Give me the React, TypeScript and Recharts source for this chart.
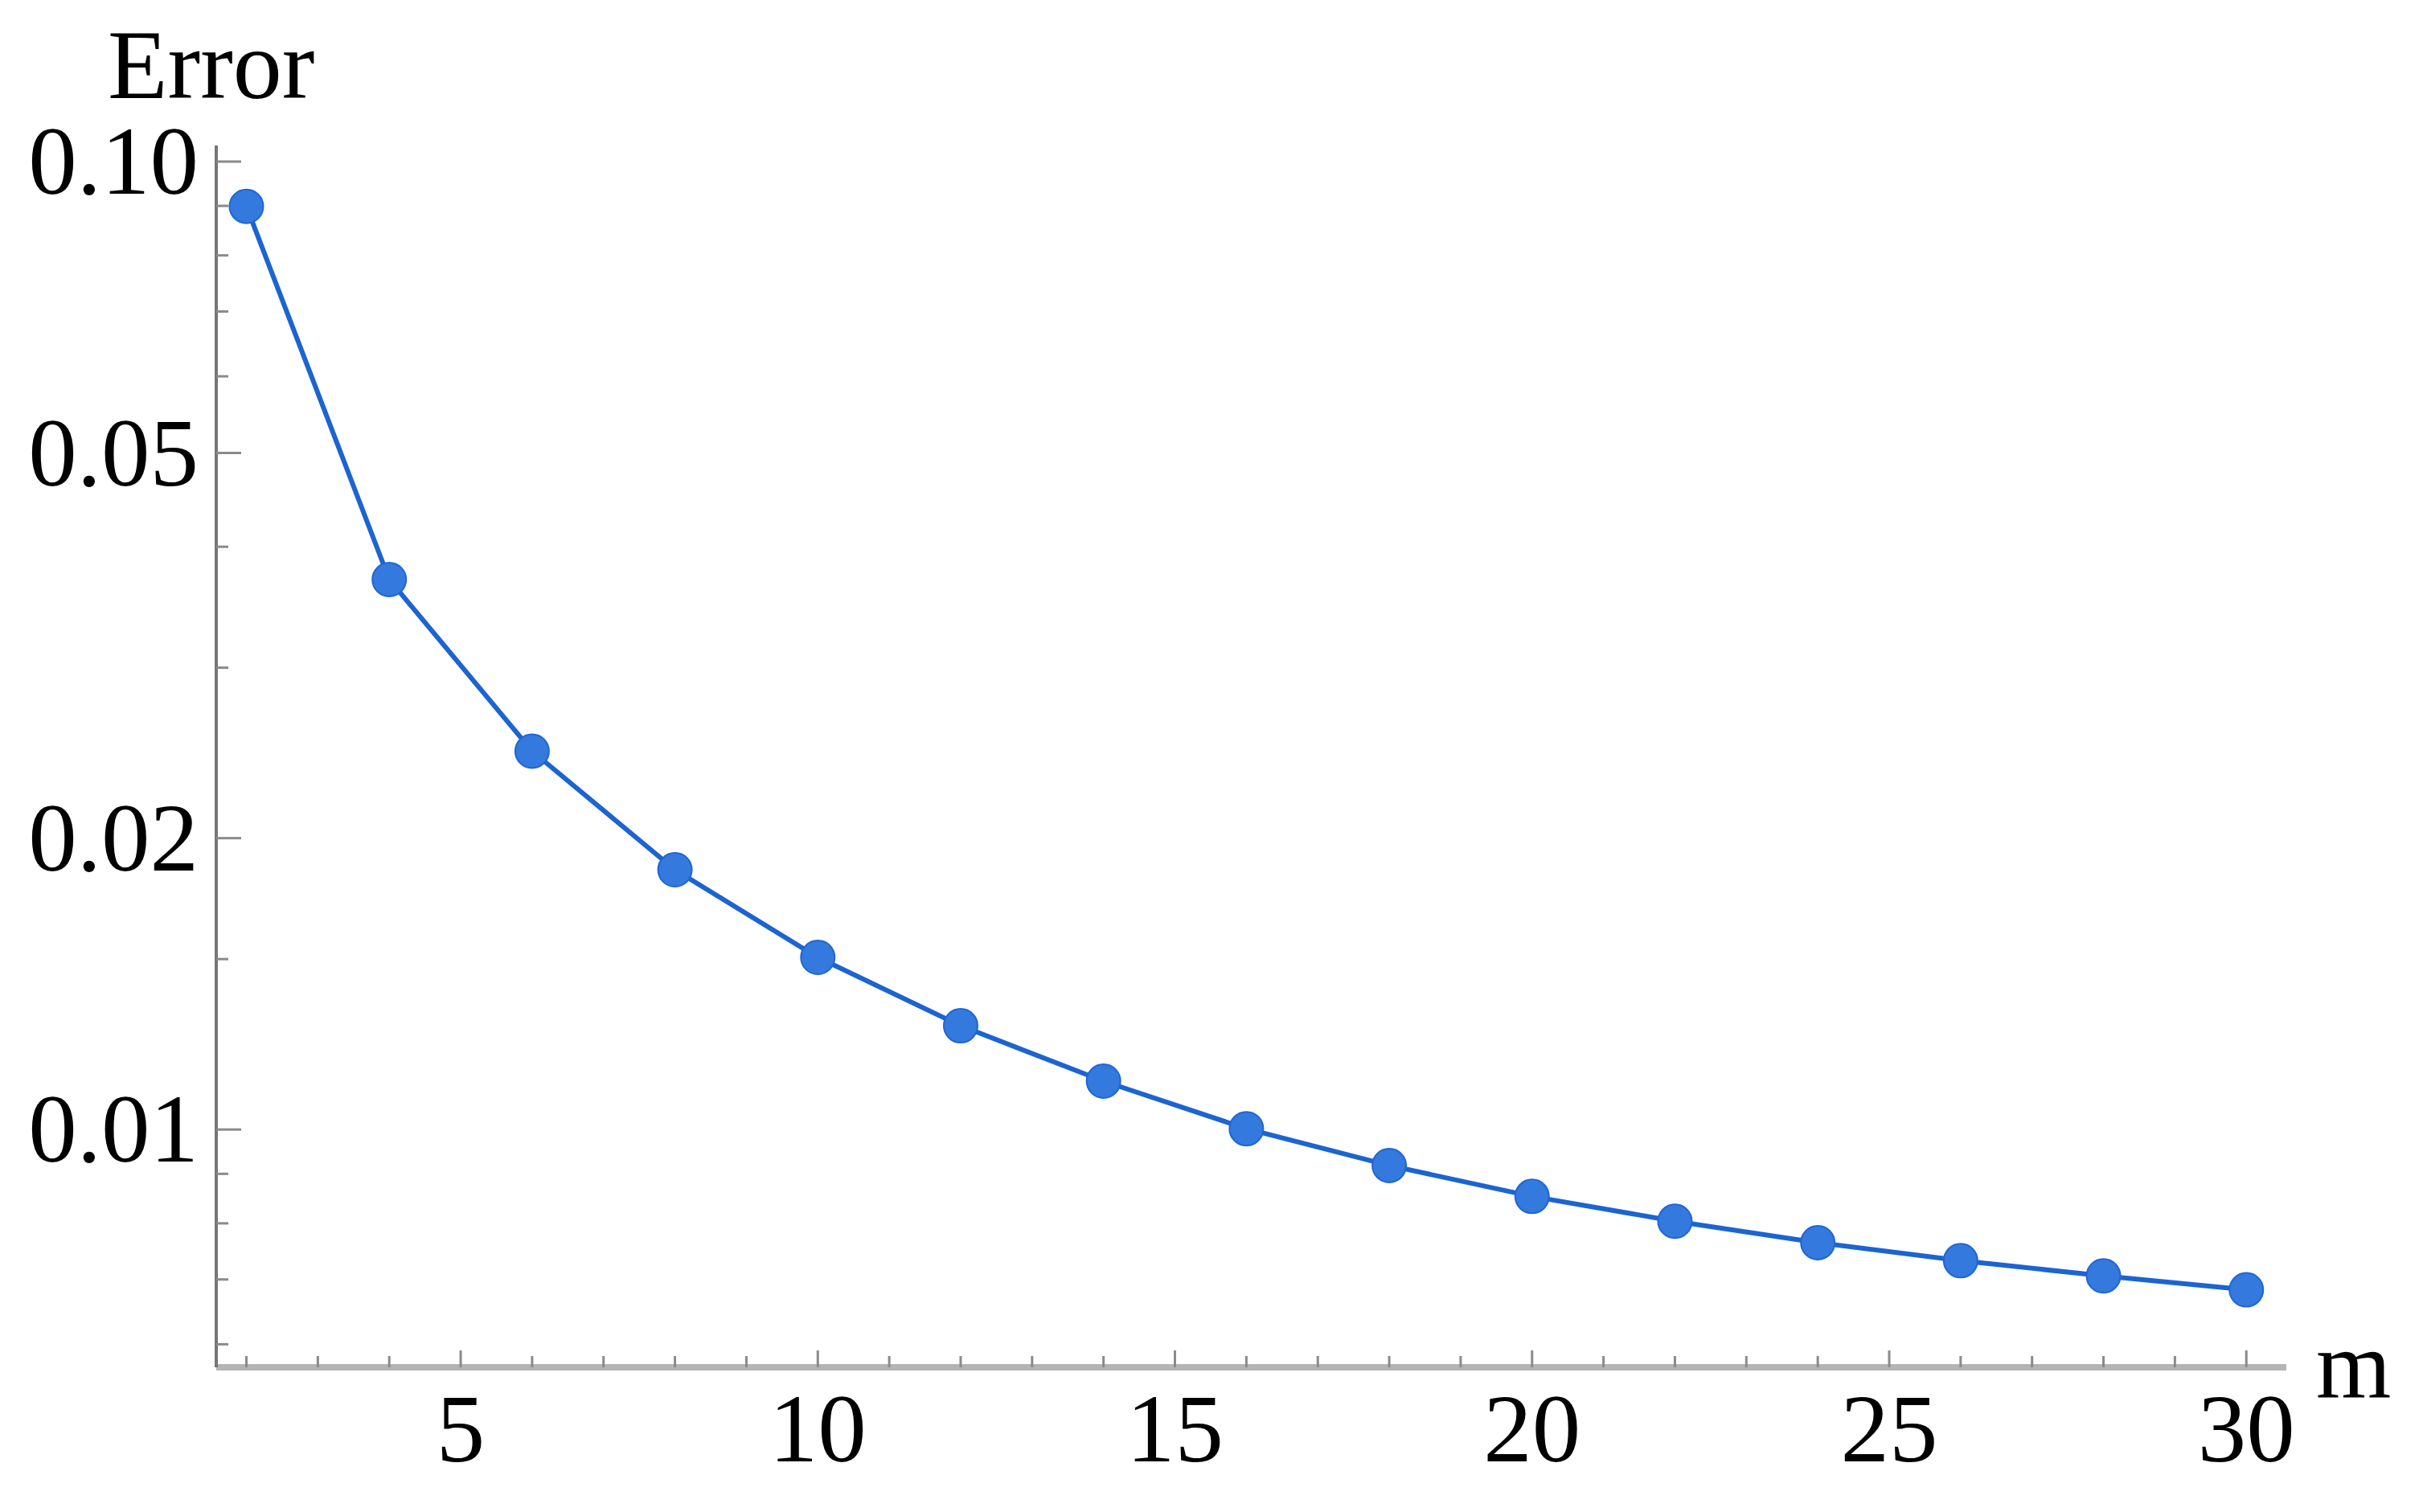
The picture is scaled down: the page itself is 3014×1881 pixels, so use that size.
import { LineChart, Line, XAxis, YAxis, Label } from 'recharts';

const mValues = [2, 4, 6, 8, 10, 12, 14, 16, 18, 20, 22, 24, 26, 28, 30];
const errValues = [
  0.0899, 0.037, 0.0246, 0.01855, 0.01506, 0.0128, 0.01122, 0.01002, 0.00918, 0.00853,
  0.00804, 0.00764, 0.00732, 0.00706, 0.00683,
];

const xTicks = [2, 3, 4, 5, 6, 7, 8, 9, 10, 11, 12, 13, 14, 15, 16, 17, 18, 19, 20, 21, 22, 23, 24, 25, 26, 27, 28, 29, 30];
const xMajorTicks = [5, 10, 15, 20, 25, 30];
const xTickLabels = ['5', '10', '15', '20', '25', '30'];

const yTicks = [0.006, 0.007, 0.008, 0.009, 0.01, 0.015, 0.02, 0.03, 0.04, 0.05, 0.06, 0.07, 0.08, 0.09, 0.1];
const yMajorTicks = [0.01, 0.02, 0.05, 0.1];
const yTickLabels = ['0.01', '0.02', '0.05', '0.10'];

const data = mValues.map((m, i) => ({ m, err: errValues[i] }));

const FONT = '"Liberation Serif", "DejaVu Serif", serif';
const TICK_COLOR = '#8a8a8a';

const XTick = (props: any) => {
  const { x, y, payload } = props;
  const idx = xMajorTicks.indexOf(payload.value);
  const major = idx >= 0;
  return (
    <g>
      <line x1={x} x2={x} y1={y} y2={y - (major ? 21 : 14)} stroke={TICK_COLOR} strokeWidth={3} />
      {major && (
        <text x={x} y={y + 117} textAnchor="middle" fontFamily={FONT} fontSize={121} fill="#000">
          {xTickLabels[idx]}
        </text>
      )}
    </g>
  );
};

const YTick = (props: any) => {
  const { x, y, payload } = props;
  const idx = yMajorTicks.findIndex((v) => Math.abs(v - payload.value) < 1e-9);
  const major = idx >= 0;
  return (
    <g>
      <line x1={x} x2={x + (major ? 31 : 15)} y1={y} y2={y} stroke={TICK_COLOR} strokeWidth={3} />
      {major && (
        <text x={x - 22} y={y + 40} textAnchor="end" fontFamily={FONT} fontSize={121} fill="#000">
          {yTickLabels[idx]}
        </text>
      )}
    </g>
  );
};

export default function App() {
  return (
    <div style={{ position: 'absolute', left: 0, top: 0, background: '#fff' }}>
      <LineChart
        width={3014}
        height={1881}
        data={data}
        margin={{ top: 181, right: 170, bottom: 179, left: 268 }}
      >
        <XAxis
          dataKey="m"
          type="number"
          domain={[1.578, 30.56]}
          ticks={xTicks}
          interval={0}
          allowDataOverflow
          height={1}
          tickSize={0}
          tickMargin={0}
          tickLine={false}
          tick={<XTick />}
          axisLine={{ stroke: '#b4b4b4', strokeWidth: 8 }}
        >
          <Label
            content={() => (
              <text x={2881} y={1739} fontFamily={FONT} fontSize={120} fill="#000">
                m
              </text>
            )}
          />
        </XAxis>
        <YAxis
          dataKey="err"
          type="number"
          scale="log"
          domain={[0.00568, 0.1039]}
          ticks={yTicks}
          interval={0}
          allowDataOverflow
          width={1}
          tickSize={0}
          tickMargin={0}
          tickLine={false}
          tick={<YTick />}
          axisLine={{ stroke: '#767676', strokeWidth: 4 }}
        >
          <Label
            content={() => (
              <text x={134} y={122} fontFamily={FONT} fontSize={122} fill="#000">
                Error
              </text>
            )}
          />
        </YAxis>
        <Line
          dataKey="err"
          type="linear"
          stroke="#1c64d0"
          strokeWidth={6}
          dot={{ r: 21, fill: '#3479de', stroke: '#1f66d3', strokeWidth: 2 }}
          activeDot={false}
          isAnimationActive={false}
        />
      </LineChart>
    </div>
  );
}
